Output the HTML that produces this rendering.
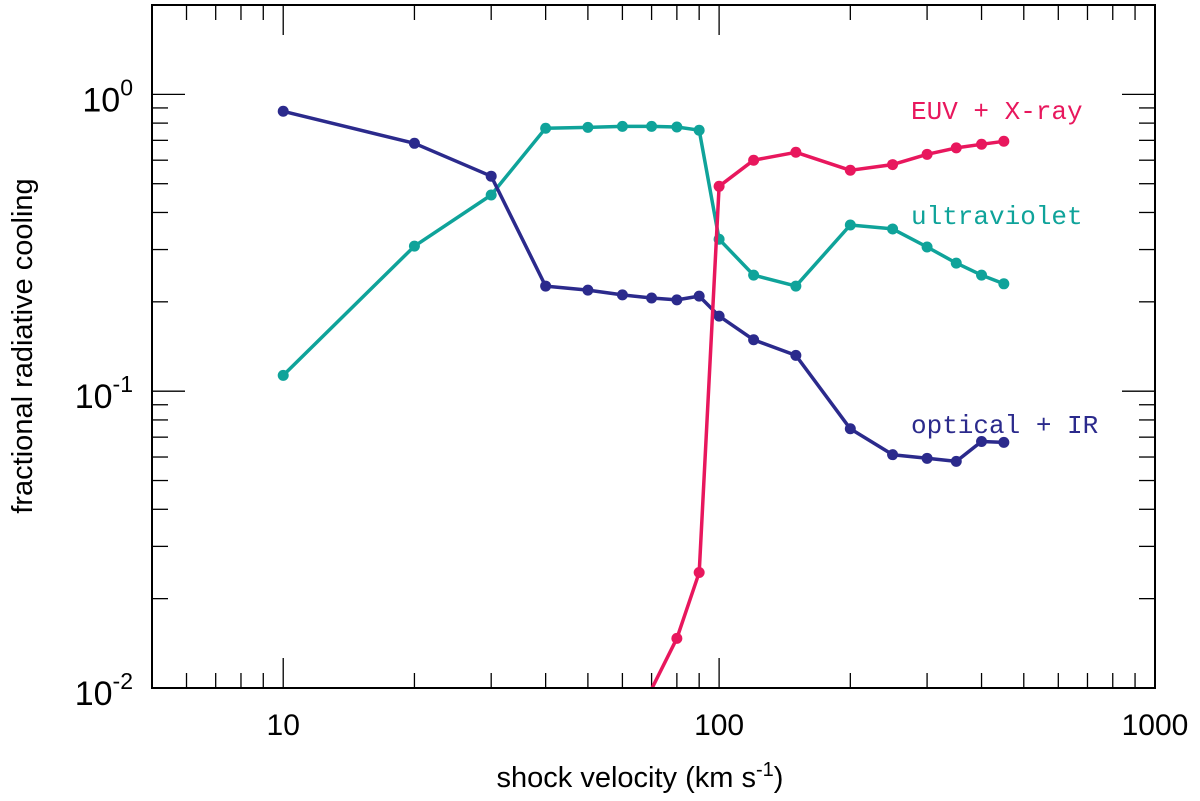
<!DOCTYPE html>
<html><head><meta charset="utf-8"><style>
html,body{margin:0;padding:0;background:#fff;}
svg{display:block;font-family:"Liberation Sans",Arial,sans-serif;}
</style></head><body>
<svg id="chart" width="1200" height="801" viewBox="0 0 1200 801">
<defs><clipPath id="clip"><rect x="152" y="5" width="1003" height="683"/></clipPath></defs>
<g id="ticks"></g>
<g id="series" clip-path="url(#clip)"></g>
<rect x="152" y="5" width="1003" height="683" fill="none" stroke="#000" stroke-width="2"/>
<g id="labels"></g>
<text x="640" y="787" text-anchor="middle" font-size="29">shock velocity (km s<tspan dy="-11" font-size="20">-1</tspan><tspan dy="11">)</tspan></text>
<text transform="translate(32,346) rotate(-90)" text-anchor="middle" font-size="29">fractional radiative cooling</text>
<g font-family="'Liberation Mono',monospace" font-size="26">
<text x="911" y="119" fill="#e8175d">EUV + X-ray</text>
<text x="911" y="224" fill="#0fa39a">ultraviolet</text>
<text x="911" y="433" fill="#2b2a8c">optical + IR</text>
</g>
</svg>
<script>
const velocities = [10,20,30,40,50,60,70,80,90,100,120,150,200,250,300,350,400,450];
const opticalIR = [0.877,0.684,0.530,0.226,0.219,0.211,0.206,0.203,0.209,0.179,0.149,0.132,0.0747,0.0611,0.0594,0.058,0.0677,0.0672];
const ultraviolet = [0.113,0.308,0.458,0.769,0.774,0.78,0.78,0.776,0.757,0.325,0.246,0.226,0.363,0.352,0.306,0.27,0.246,0.23];
const euvVelocities = [60,80,90,100,120,150,200,250,300,350,400,450];
const euvXray = [0.0063,0.0147,0.0245,0.49,0.60,0.638,0.555,0.58,0.628,0.66,0.679,0.695];
const xTickLabels = ["10","100","1000"];
const yTickLabels = ["0","-1","-2"];

const NS="http://www.w3.org/2000/svg";
const X0=152,X1=1155,Y0=688,Y1=5;
const xmin=Math.log10(5),xmax=3,ymin=-2,ymax=Math.log10(2);
function xs(v){return X0+(Math.log10(v)-xmin)/(xmax-xmin)*(X1-X0);}
function ys(v){return Y0-(Math.log10(v)-ymin)/(ymax-ymin)*(Y0-Y1);}
function mk(tag,attrs,parent){const e=document.createElementNS(NS,tag);for(const k in attrs)e.setAttribute(k,attrs[k]);parent.appendChild(e);return e;}
const tg=document.getElementById('ticks'),lg=document.getElementById('labels'),sg=document.getElementById('series');
for(let d=1;d<=100;d*=10){for(let m=1;m<10;m++){const v=d*m;if(v<5||v>1000)continue;const x=xs(v);const L=(m===1)?30:15;
const t1=mk('line',{x1:x,x2:x,y1:Y0,y2:Y0-L,stroke:'#000','stroke-width':1.3},tg);

const t2=mk('line',{x1:x,x2:x,y1:Y1,y2:Y1+L,stroke:'#000','stroke-width':1.3},tg);
}}
xTickLabels.forEach(s=>{const t=mk('text',{x:xs(+s),y:735,'text-anchor':'middle','font-size':30},lg);t.textContent=s;
});
for(let e=-2;e<=0;e++){for(let m=1;m<10;m++){const v=m*Math.pow(10,e);if(v>2)continue;const y=ys(v);const L=(m===1)?33:16;
const a=mk('line',{x1:X0,x2:X0+L,y1:y,y2:y,stroke:'#000','stroke-width':1.3},tg);

const b=mk('line',{x1:X1,x2:X1-L,y1:y,y2:y,stroke:'#000','stroke-width':1.3},tg);
}}
yTickLabels.forEach(s=>{const y=ys(Math.pow(10,+s));const t=mk('text',{x:133,y:y+17,'text-anchor':'end','font-size':34},lg);
t.innerHTML='10<tspan dy="-16" font-size="23">'+s+'</tspan>';
});
function series(xv,yv,color,name){
const pts=xv.map((v,i)=>xs(v).toFixed(1)+','+ys(yv[i]).toFixed(1)).join(' ');
const p=mk('polyline',{points:pts,fill:'none',stroke:color,'stroke-width':3.5,'stroke-linejoin':'round'},sg);

xv.forEach((v,i)=>{const c=mk('circle',{cx:xs(v),cy:ys(yv[i]),r:5.5,fill:color},sg);
});}
series(velocities,ultraviolet,'#0fa39a','ultraviolet');
series(velocities,opticalIR,'#2b2a8c','optical-ir');
series(euvVelocities,euvXray,'#e8175d','euv-xray');
</script>
</body></html>
